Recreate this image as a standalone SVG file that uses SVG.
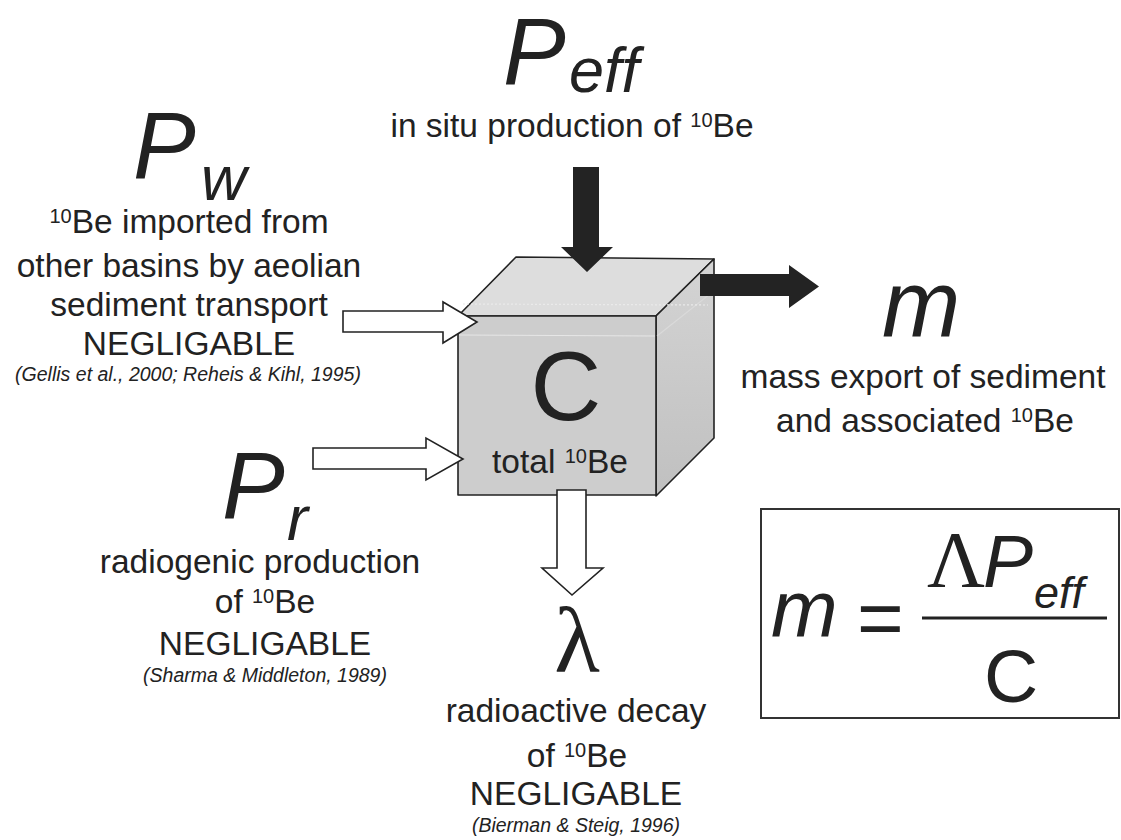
<svg xmlns="http://www.w3.org/2000/svg" width="1121" height="840" viewBox="0 0 1121 840">
<defs>
<style>
.t{font-family:"Liberation Sans",Arial,sans-serif;fill:#222;}
.b{font-size:33.5px;text-anchor:middle;}
.sup{font-size:20px;}
.cit{font-size:19.5px;font-style:italic;text-anchor:middle;}
.big{font-size:94px;font-style:italic;}
.sub{font-size:63px;font-style:italic;}
.serif{font-family:"Liberation Serif","Times New Roman",serif;fill:#222;}
.edge{stroke:#222;stroke-width:1.6;stroke-linejoin:round;}
.wa{fill:#fff;stroke:#222;stroke-width:1.6;stroke-linejoin:miter;}
.ba{fill:#232323;}
</style>
<linearGradient id="gR" x1="0" y1="0" x2="0" y2="1">
<stop offset="0" stop-color="#d4d4d4"/>
<stop offset="1" stop-color="#c0c0c0"/>
</linearGradient>
</defs>
<rect width="1121" height="840" fill="#fff"/>

<g id="cube">
<polygon class="edge" points="458,316 656,316 714,259 516,257" fill="#dddddd"/>
<polygon class="edge" points="656,316 714,259 714,438 656,496" fill="url(#gR)"/>
<rect class="edge" x="458" y="316" width="198" height="179" fill="#cdcdcd"/>
<line x1="459" y1="335" x2="655" y2="336" stroke="#e6e6e6" stroke-width="1.2"/>
<line x1="657" y1="336" x2="710" y2="294" stroke="#dadada" stroke-width="1.2"/>
<line x1="463" y1="304" x2="708" y2="305" stroke="#eaeaea" stroke-width="1.2" stroke-dasharray="2 2"/>
<text class="t" x="566" y="420" font-size="98" text-anchor="middle">C</text>
<text class="t b" x="560" y="473">total <tspan class="sup" dy="-10">10</tspan><tspan dy="10">Be</tspan></text>
</g>

<g id="connectors">
<polygon class="ba" points="573,167 599,167 599,247 613,247 587,272 561,247 573,247"/>
<polygon class="ba" points="700,274 789,274 789,265 819,286.5 789,308 789,296 700,296"/>
<polygon class="wa" points="343,311 443,311 443,302 477,322 443,343 443,332 343,332"/>
<polygon class="wa" points="313,448 426,448 426,438 463,459 426,480 426,469 313,469"/>
<polygon class="wa" points="557,490 586,490 586,568 603,568 572,595 542,568 557,568"/>
</g>

<g id="peff">
<text class="t big" x="503" y="84" font-size="91">P</text>
<text class="t sub" x="569" y="92">eff</text>
<text class="t b" x="572" y="137">in situ production of <tspan class="sup" dy="-10">10</tspan><tspan dy="10">Be</tspan></text>
</g>

<g id="pw">
<text class="t big" x="133" y="178">P</text>
<text class="t sub" x="201" y="200">w</text>
<text class="t b" x="189" y="233"><tspan class="sup" dy="-10">10</tspan><tspan dy="10">Be imported from</tspan></text>
<text class="t b" x="189" y="277">other basins by aeolian</text>
<text class="t b" x="189" y="316">sediment transport</text>
<text class="t b" x="189" y="355">NEGLIGABLE</text>
<text class="t cit" x="188" y="381">(Gellis et al., 2000; Reheis &amp; Kihl, 1995)</text>
</g>

<g id="pr">
<text class="t big" x="222" y="518">P</text>
<text class="t sub" x="287" y="540">r</text>
<text class="t b" x="260" y="573">radiogenic production</text>
<text class="t b" x="265" y="613">of <tspan class="sup" dy="-10">10</tspan><tspan dy="10">Be</tspan></text>
<text class="t b" x="265" y="655">NEGLIGABLE</text>
<text class="t cit" x="265" y="682">(Sharma &amp; Middleton, 1989)</text>
</g>

<g id="m">
<text class="t" x="882" y="337" font-size="94" font-style="italic">m</text>
<text class="t b" x="923" y="388">mass export of sediment</text>
<text class="t b" x="925" y="432">and associated <tspan class="sup" dy="-10">10</tspan><tspan dy="10">Be</tspan></text>
</g>

<g id="lambda">
<text class="serif" x="577" y="672" font-size="94" text-anchor="middle">λ</text>
<text class="t b" x="576" y="722">radioactive decay</text>
<text class="t b" x="577" y="767">of <tspan class="sup" dy="-10">10</tspan><tspan dy="10">Be</tspan></text>
<text class="t b" x="576" y="805">NEGLIGABLE</text>
<text class="t cit" x="576" y="832">(Bierman &amp; Steig, 1996)</text>
</g>

<g id="equation">
<rect x="761" y="509" width="358" height="209" fill="#fff" stroke="#333" stroke-width="2"/>
<text class="t" x="771" y="637" font-size="80" font-style="italic">m</text>
<text class="t" x="857" y="645" font-size="80">=</text>
<line x1="922" y1="618" x2="1107" y2="618" stroke="#222" stroke-width="3"/>
<text class="serif" x="927" y="587" font-size="80">Λ</text>
<text class="t" x="983" y="587" font-size="75" font-style="italic">P</text>
<text class="t" x="1034" y="608" font-size="45" font-style="italic">eff</text>
<text class="t" x="1011" y="702" font-size="75" text-anchor="middle">C</text>
</g>
</svg>
